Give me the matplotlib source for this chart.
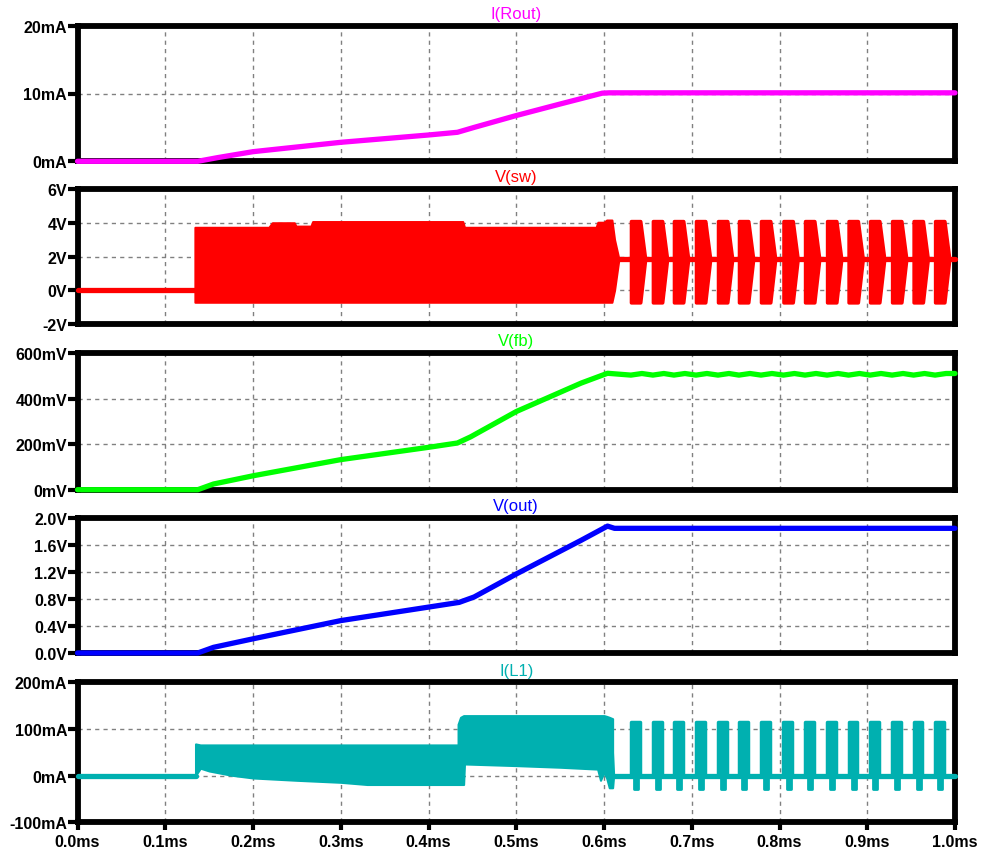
import matplotlib.pyplot as plt

plt.rcParams['font.family'] = ['Liberation Sans', 'DejaVu Sans']

# ---- data (time in ms) ----
# I(Rout) in mA
rout_t = [0.0, 0.137, 0.160, 0.200, 0.300, 0.400, 0.433, 0.452, 0.500, 0.550, 0.598, 0.606, 1.0]
rout_i = [0.0, 0.0, 0.55, 1.42, 2.80, 3.88, 4.28, 5.0, 6.75, 8.45, 10.05, 10.1, 10.1]

# V(fb) in mV (ramp part), steady part is built from burst times below
fb_t = [0.0, 0.137, 0.155, 0.200, 0.300, 0.400, 0.433, 0.448, 0.500, 0.574, 0.604]
fb_v = [0.0, 0.0, 25.0, 61.0, 132.0, 186.0, 205.0, 232.0, 343.0, 468.0, 511.0]
fb_hi, fb_lo = 510.0, 503.0

# V(out) in V
out_t = [0.0, 0.137, 0.155, 0.200, 0.300, 0.400, 0.435, 0.452, 0.500, 0.574, 0.604, 0.612, 1.0]
out_v = [0.0, 0.0, 0.084, 0.21, 0.48, 0.68, 0.75, 0.83, 1.17, 1.67, 1.88, 1.847, 1.847]

# V(sw) envelope of the continuous switching region, in V
sw_t = [0.1338, 0.1338, 0.218, 0.222, 0.247, 0.249, 0.266, 0.268, 0.439, 0.441,
        0.591, 0.593, 0.600, 0.603, 0.609, 0.612, 0.617]
sw_hi = [0.0, 3.73, 3.73, 4.0, 4.0, 3.8, 3.8, 4.07, 4.07, 3.73,
         3.73, 4.03, 4.03, 4.16, 4.16, 3.0, 1.85]
sw_lo = [0.0, -0.71, -0.71, -0.71, -0.71, -0.71, -0.71, -0.71, -0.71, -0.71,
         -0.71, -0.71, -0.71, -0.71, -0.71, 0.0, 1.85]
sw_idle = 1.85

# I(L1) envelope of the continuous switching region, in mA
il_t = [0.1345, 0.1345, 0.140, 0.150, 0.175, 0.200, 0.250, 0.300, 0.330, 0.4337, 0.4337,
        0.4365, 0.4400, 0.4410, 0.500, 0.550, 0.5927, 0.596, 0.600, 0.603, 0.606, 0.6098,
        0.6098, 0.611]
il_hi = [0.0, 68.0, 65.8, 65.8, 65.8, 65.8, 65.8, 65.8, 65.8, 65.8, 110.0,
         125.0, 128.6, 128.6, 128.6, 128.6, 128.6, 128.6, 128.6, 127.0, 125.0, 122.0,
         50.0, 0.0]
il_lo = [0.0, 0.0, 16.0, 10.0, 1.0, -5.0, -10.0, -14.3, -19.0, -19.0, -19.0,
         -19.0, -19.0, 25.0, 21.5, 18.0, 14.0, -10.0, 7.0, -5.0, -26.0, -26.0,
         -26.0, 0.0]

# burst starts in the pulse-skipping region (ms)
burst_t = [0.6307, 0.6557, 0.6797, 0.7048, 0.7299, 0.7538, 0.7789, 0.8045,
           0.8291, 0.8542, 0.8787, 0.9032, 0.9283, 0.9528, 0.9773]
burst_w = 0.0125
sw_burst_hi, sw_burst_lo = 4.1, -0.72
il_burst_hi, il_burst_tail = 114.0, -28.0

# axis ticks
x_ticks = [0.0, 0.1, 0.2, 0.3, 0.4, 0.5, 0.6, 0.7, 0.8, 0.9, 1.0]
x_labels = ['%.1fms' % v for v in x_ticks]

MAG, RED, GRN, BLU, TEAL = '#FF00FF', '#FF0000', '#00FF00', '#0000FF', '#00B0B0'
LW = 3.8

fig = plt.figure(figsize=(9.81, 8.53), dpi=100)
W, H = 981.0, 853.0
left, right = 77.5 / W, 955.0 / W
rows = [(26.7, 162.3), (190.0, 325.0), (354.0, 490.7), (519.0, 654.0), (683.3, 823.3)]
axes = [fig.add_axes([left, 1 - b / H, right - left, (b - t) / H]) for t, b in rows]


def style(ax, title, color, yticks, ylabels, bottom=False):
    ax.set_xlim(0, 1.0)
    ax.set_ylim(yticks[0], yticks[-1])
    ax.set_yticks(yticks)
    ax.set_yticklabels(ylabels)
    ax.set_xticks(x_ticks)
    for s in ax.spines.values():
        s.set_linewidth(4.2)
        s.set_zorder(2.5)
    ax.tick_params(axis='y', direction='out', length=7, width=3, pad=0.5,
                   labelsize=11.5)
    for lab in ax.get_yticklabels():
        lab.set_fontweight('bold')
    if bottom:
        ax.set_xticklabels(x_labels)
        ax.tick_params(axis='x', direction='out', length=6, width=3, pad=2.5,
                       labelsize=11.5)
        for lab in ax.get_xticklabels():
            lab.set_fontweight('bold')
    else:
        ax.tick_params(axis='x', length=0, labelbottom=False)
    ax.grid(True, linestyle=(0, (3, 3)), color='#808080', linewidth=1.0)
    ax.set_axisbelow(True)
    ax.set_title(title, color=color, fontsize=12, pad=5.5)


# panel 1: I(Rout)
ax = axes[0]
ax.plot(rout_t, rout_i, color=MAG, lw=LW, solid_capstyle='round', zorder=3, clip_on=False)
style(ax, 'I(Rout)', MAG, [0, 10, 20], ['0mA', '10mA', '20mA'])

# panel 2: V(sw)
ax = axes[1]
ax.plot([0.0, sw_t[0]], [0.0, 0.0], color=RED, lw=LW, solid_capstyle='round', zorder=3, clip_on=False)
ax.fill_between(sw_t, sw_lo, sw_hi, color=RED, lw=1.5, edgecolor=RED, zorder=3)
ax.plot([sw_t[-1], 1.0], [sw_idle, sw_idle], color=RED, lw=LW, solid_capstyle='round', zorder=3, clip_on=False)
for t0 in burst_t:
    bt = [t0, t0 + burst_w * 0.85, t0 + burst_w * 1.3]
    ax.fill_between(bt, [sw_burst_lo, sw_burst_lo, sw_idle], [sw_burst_hi, sw_burst_hi, sw_idle],
                    color=RED, edgecolor=RED, lw=2.5, joinstyle='round', zorder=3)
style(ax, 'V(sw)', RED, [-2, 0, 2, 4, 6], ['-2V', '0V', '2V', '4V', '6V'])

# panel 3: V(fb)
ax = axes[2]
fb_ss_t, fb_ss_v = [], []
for t0 in burst_t:
    fb_ss_t += [t0, t0 + burst_w]
    fb_ss_v += [fb_lo, fb_hi]
ax.plot(fb_t + fb_ss_t + [1.0], fb_v + fb_ss_v + [fb_hi], color=GRN, lw=LW,
        solid_capstyle='round', zorder=3, clip_on=False)
style(ax, 'V(fb)', GRN, [0, 200, 400, 600], ['0mV', '200mV', '400mV', '600mV'])

# panel 4: V(out)
ax = axes[3]
ax.plot(out_t, out_v, color=BLU, lw=LW, solid_capstyle='round', zorder=3, clip_on=False)
style(ax, 'V(out)', BLU, [0.0, 0.4, 0.8, 1.2, 1.6, 2.0],
      ['0.0V', '0.4V', '0.8V', '1.2V', '1.6V', '2.0V'])

# panel 5: I(L1)
ax = axes[4]
ax.plot([0.0, il_t[0]], [0.0, 0.0], color=TEAL, lw=LW, solid_capstyle='round', zorder=3, clip_on=False)
ax.fill_between(il_t, il_lo, il_hi, color=TEAL, edgecolor=TEAL, lw=1.5, zorder=3)
ax.plot([il_t[-1], 1.0], [0.0, 0.0], color=TEAL, lw=LW, solid_capstyle='round', zorder=3, clip_on=False)
for t0 in burst_t:
    ax.fill_between([t0, t0 + burst_w * 0.8], [0.0, 0.0], [il_burst_hi, il_burst_hi],
                    color=TEAL, edgecolor=TEAL, lw=2.5, joinstyle='round', zorder=3)
    ax.fill_between([t0 + burst_w * 0.3, t0 + burst_w * 0.65], [il_burst_tail, il_burst_tail],
                    [0.0, 0.0], color=TEAL, edgecolor=TEAL, lw=2.0, joinstyle='round', zorder=3)
style(ax, 'I(L1)', TEAL, [-100, 0, 100, 200], ['-100mA', '0mA', '100mA', '200mA'], bottom=True)

fig.savefig('out.png', dpi=100)
